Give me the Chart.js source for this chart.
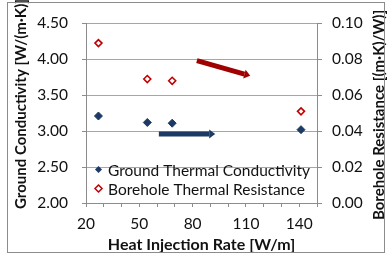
<!DOCTYPE html>
<html>
<head>
<meta charset="utf-8">
<script src="https://cdn.jsdelivr.net/npm/chart.js@4.4.0/dist/chart.umd.min.js"></script>
<style>
  html, body { margin: 0; padding: 0; background: #fff; }
  #wrap { width: 388px; height: 259px; }
</style>
</head>
<body>
<div id="wrap"><canvas id="chart" width="388" height="259"></canvas></div>
<script>
// values
const heatRate = [27, 54.5, 68.5, 141];
const conductivity = [3.21, 3.12, 3.11, 3.02];
const resistance = [0.089, 0.069, 0.068, 0.051];

const xTicks = [20, 50, 80, 110, 140];
const leftTicks = [2.0, 2.5, 3.0, 3.5, 4.0, 4.5];
const rightTicks = [0.0, 0.02, 0.04, 0.06, 0.08, 0.10];

// trend arrows, in data units (x, left axis y)
const redArrowX = [82.4, 112.4];
const redArrowY = [3.98, 3.77];
const blueArrowX = [61, 92.7];
const blueArrowY = [2.96, 2.96];

const blue = "#1c3a64";
const red = "#c00000";
const gridGray = "#a6a6a6";
const axisGray = "#8c8c8c";
const FONT = "Lato, 'Open Sans', sans-serif";

function drawArrow(ctx, x1, y1, x2, y2, color, w) {
  const ang = Math.atan2(y2 - y1, x2 - x1);
  const head = 6;
  const hx = x2 - Math.cos(ang) * head;
  const hy = y2 - Math.sin(ang) * head;
  ctx.save();
  ctx.strokeStyle = color;
  ctx.fillStyle = color;
  ctx.lineWidth = w;
  ctx.beginPath();
  ctx.moveTo(x1, y1);
  ctx.lineTo(hx, hy);
  ctx.stroke();
  ctx.beginPath();
  ctx.moveTo(x2, y2);
  ctx.lineTo(hx + Math.sin(ang) * 4.5, hy - Math.cos(ang) * 4.5);
  ctx.lineTo(hx - Math.sin(ang) * 4.5, hy + Math.cos(ang) * 4.5);
  ctx.closePath();
  ctx.fill();
  ctx.restore();
}

const extras = {
  id: "extras",
  afterDatasetsDraw(chart) {
    const ctx = chart.ctx;
    const x = chart.scales.x, y = chart.scales.y;

    drawArrow(ctx, x.getPixelForValue(redArrowX[0]), y.getPixelForValue(redArrowY[0]),
      x.getPixelForValue(redArrowX[1]), y.getPixelForValue(redArrowY[1]), "#a00000", 5);
    drawArrow(ctx, x.getPixelForValue(blueArrowX[0]), y.getPixelForValue(blueArrowY[0]),
      x.getPixelForValue(blueArrowX[1]), y.getPixelForValue(blueArrowY[1]), blue, 5);

    // legend inside the plot
    ctx.save();
    ctx.font = "15.5px " + FONT;
    ctx.textBaseline = "middle";
    chart.data.datasets.forEach((ds, i) => {
      const ly = 169.5 + i * 19;
      const lx = 98.5;
      ctx.beginPath();
      ctx.moveTo(lx, ly - 3.5);
      ctx.lineTo(lx + 3.5, ly);
      ctx.lineTo(lx, ly + 3.5);
      ctx.lineTo(lx - 3.5, ly);
      ctx.closePath();
      ctx.fillStyle = ds.backgroundColor;
      ctx.fill();
      if (ds.borderWidth > 1) {
        ctx.strokeStyle = ds.borderColor;
        ctx.lineWidth = 1.5;
        ctx.stroke();
      }
      ctx.fillStyle = "#111";
      ctx.fillText(ds.label, 108, ly + 1);
    });

    // axis titles
    ctx.fillStyle = "#111";
    ctx.textAlign = "center";
    ctx.font = "bold 16px " + FONT;
    ctx.fillText("Heat Injection Rate [W/m]", (chart.chartArea.left + chart.chartArea.right) / 2, 245);
    ctx.save();
    ctx.font = "bold 15px " + FONT;
    ctx.translate(21, 104);
    ctx.rotate(-Math.PI / 2);
    ctx.fillText("Ground Conductivity [W/(m\u00b7K)]", 0, 0);
    ctx.restore();
    ctx.save();
    ctx.font = "bold 15px " + FONT;
    ctx.translate(379, 115);
    ctx.rotate(-Math.PI / 2);
    ctx.fillText("Borehole Resistance [(m\u00b7K)/W)]", 0, 0);
    ctx.restore();

    // chart border
    ctx.strokeStyle = "#8c8c8c";
    ctx.lineWidth = 1;
    ctx.strokeRect(7.5, 2.5, 377, 250);
    ctx.restore();
  }
};

new Chart(document.getElementById("chart"), {
  type: "scatter",
  data: {
    datasets: [
      {
        label: "Ground Thermal Conductivity",
        data: heatRate.map((v, i) => ({ x: v, y: conductivity[i] })),
        yAxisID: "y",
        pointStyle: "rectRot",
        pointRadius: 4,
        backgroundColor: blue,
        borderColor: blue,
        borderWidth: 1
      },
      {
        label: "Borehole Thermal Resistance",
        data: heatRate.map((v, i) => ({ x: v, y: resistance[i] })),
        yAxisID: "y2",
        pointStyle: "rectRot",
        pointRadius: 3.5,
        backgroundColor: "#fff",
        borderColor: red,
        borderWidth: 1.6
      }
    ]
  },
  options: {
    responsive: false,
    animation: false,
    layout: { padding: { top: 17, left: 0, right: 0, bottom: 0 } },
    plugins: { legend: { display: false }, tooltip: { enabled: false } },
    scales: {
      x: {
        type: "linear",
        min: 20,
        max: 150,
        afterFit: (s) => { s.height = 56; },
        afterBuildTicks: (s) => {
          const t = [];
          for (let v = 20; v <= 150; v += 10) t.push({ value: v });
          s.ticks = t;
        },
        ticks: {
          autoSkip: false,
          maxRotation: 0,
          padding: 8,
          color: "#111",
          font: { family: FONT, size: 15.5 },
          callback: (v) => (xTicks.includes(v) ? String(v) : "")
        },
        grid: {
          drawOnChartArea: true,
          color: (c) => (c.tick && (c.tick.value === 20 || c.tick.value === 150) ? "rgba(0,0,0,0)" : "#fff"),
          tickColor: axisGray,
          tickLength: 4
        },
        border: { color: axisGray }
      },
      y: {
        position: "left",
        min: 2,
        max: 4.5,
        afterFit: (s) => { s.width = 86; },
        afterBuildTicks: (s) => { s.ticks = leftTicks.map((v) => ({ value: v })); },
        ticks: {
          padding: 14,
          color: "#111",
          font: { family: FONT, size: 15.5 },
          callback: (v) => v.toFixed(2)
        },
        grid: { color: gridGray, tickColor: axisGray, tickLength: 4 },
        border: { color: axisGray }
      },
      y2: {
        position: "right",
        min: 0,
        max: 0.1,
        afterFit: (s) => { s.width = 71; },
        afterBuildTicks: (s) => { s.ticks = rightTicks.map((v) => ({ value: v })); },
        ticks: {
          padding: 10,
          color: "#111",
          font: { family: FONT, size: 15.5 },
          callback: (v) => v.toFixed(2)
        },
        grid: { drawOnChartArea: false, tickColor: axisGray, tickLength: 5 },
        border: { color: axisGray }
      }
    }
  },
  plugins: [extras]
});
</script>
</body>
</html>
